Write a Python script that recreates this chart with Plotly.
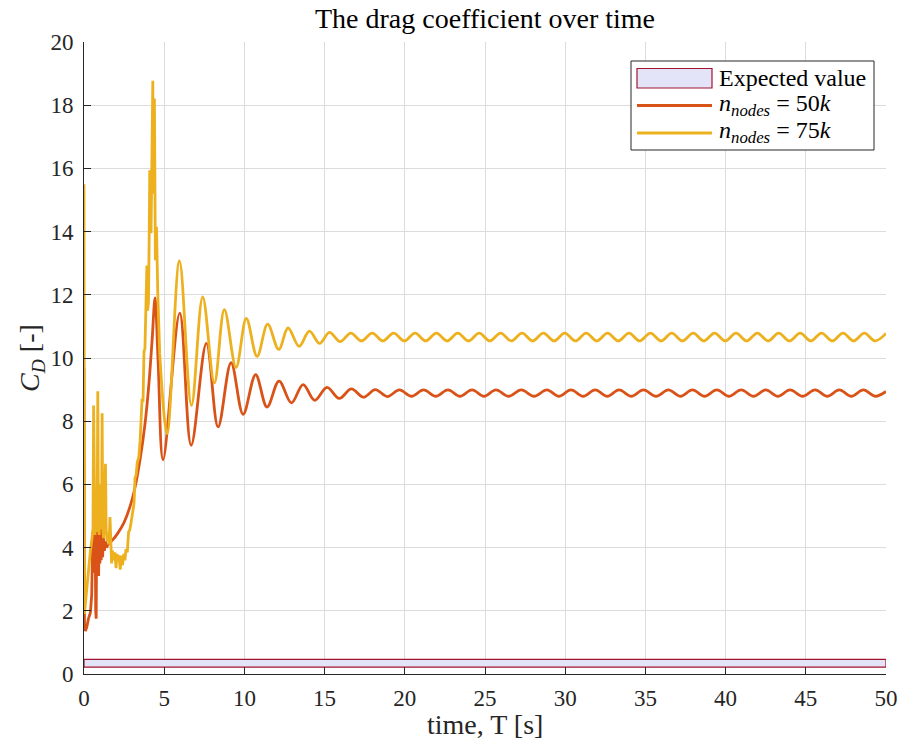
import plotly.graph_objects as go

# ---------------- data ----------------
# Expected value band for C_D
expected_low = 0.22
expected_high = 0.46
time_limits = [0.0, 50.0]

# n_nodes = 50k : noisy start-up part
red_spiky_t = [0.00, 0.03, 0.09, 0.18, 0.28, 0.40, 0.48, 0.52, 0.55, 0.58, 0.62, 0.66, 0.70,
               0.73, 0.76, 0.79, 0.83, 0.87, 0.91, 0.95, 0.99, 1.03, 1.07, 1.11, 1.16, 1.21,
               1.27, 1.33, 1.40, 1.50]
red_spiky_v = [9.70, 1.60, 1.36, 1.50, 1.75, 1.95, 2.50, 3.30, 4.50, 3.20, 4.60, 3.30, 4.40,
               2.00, 1.75, 4.50, 3.30, 4.60, 3.10, 4.40, 3.50, 4.60, 3.60, 4.40, 3.70, 4.30,
               3.90, 4.20, 4.00, 4.10]
# n_nodes = 50k : smooth part (peaks / troughs)
red_smooth_t = [1.50, 1.80, 2.10, 2.50, 2.90, 3.20, 3.50, 3.80, 4.05, 4.25, 4.43, 4.62, 4.93,
                5.97, 6.68, 7.63, 8.36, 9.17, 9.92, 10.70, 11.41, 12.16, 12.93, 13.66, 14.38,
                15.15, 15.91, 16.67, 17.42, 18.16, 18.91, 19.66, 20.42, 21.17, 21.93, 22.69,
                23.44, 24.19, 24.94, 25.68, 26.47, 27.26, 28.06, 28.86, 29.61, 30.36, 31.12,
                31.87, 32.62, 33.36, 34.12, 34.88, 35.66, 36.44, 37.19, 37.93, 38.69, 39.45,
                40.21, 40.97, 41.74, 42.50, 43.26, 44.02, 44.80, 45.58, 46.34, 47.09, 47.84,
                48.59, 49.34, 50.00]
red_smooth_v = [4.10, 4.25, 4.45, 4.80, 5.35, 5.95, 6.80, 7.90, 9.20, 10.60, 11.90, 9.90, 6.78,
                11.42, 7.24, 10.46, 7.82, 9.85, 8.22, 9.47, 8.45, 9.27, 8.58, 9.16, 8.66,
                9.07, 8.72, 9.02, 8.76, 9.00, 8.78, 8.99, 8.79, 8.99, 8.79, 8.99,
                8.79, 8.99, 8.79, 8.99, 8.79, 8.99, 8.79, 8.99, 8.79, 8.99, 8.79,
                8.99, 8.79, 8.99, 8.79, 8.99, 8.79, 8.99, 8.79, 8.99, 8.79, 8.99,
                8.79, 8.99, 8.79, 8.99, 8.79, 8.99, 8.79, 8.99, 8.79, 8.99, 8.79,
                8.99, 8.79, 8.94]

# n_nodes = 75k : noisy start-up part
yellow_spiky_t = [0.00, 0.03, 0.10, 0.20, 0.30, 0.40, 0.50, 0.56, 0.60, 0.63, 0.68, 0.72, 0.76,
                  0.82, 0.86, 0.90, 0.95, 1.00, 1.04, 1.09, 1.13, 1.17, 1.22, 1.28, 1.34, 1.38,
                  1.44, 1.50, 1.56, 1.62, 1.67, 1.72, 1.78, 1.85, 1.92, 2.00, 2.06, 2.12, 2.18,
                  2.26, 2.33, 2.40, 2.48, 2.55, 2.62, 2.70, 2.78, 2.85, 2.92, 3.00, 3.06, 3.12,
                  3.18, 3.25, 3.32, 3.42, 3.50, 3.56, 3.62, 3.68, 3.74, 3.80, 3.86, 3.92, 3.97,
                  4.02, 4.06, 4.10, 4.18, 4.23, 4.29, 4.33, 4.39, 4.45, 4.52, 4.60, 4.72]
yellow_spiky_v = [15.50, 1.90, 2.30, 2.90, 3.40, 3.90, 4.30, 4.60, 8.50, 4.80, 4.40, 5.50, 4.50,
                  4.90, 8.95, 4.70, 4.40, 6.00, 4.60, 4.90, 8.25, 4.60, 4.30, 5.40, 6.65, 4.60,
                  4.20, 4.40, 4.10, 4.97, 3.70, 3.50, 3.90, 3.60, 3.85, 3.35, 3.80, 3.60, 3.75,
                  3.30, 3.75, 3.45, 3.80, 3.60, 3.95, 3.85, 4.50, 4.55, 4.75, 5.00, 5.30, 5.40,
                  6.20, 6.30, 6.70, 6.87, 7.40, 7.92, 8.71, 8.60, 10.20, 10.30, 12.10, 12.93, 11.50,
                  11.80, 13.62, 15.94, 13.95, 16.25, 18.77, 15.20, 18.21, 13.09, 14.15, 12.04, 10.14]
# n_nodes = 75k : smooth part (peaks / troughs)
yellow_smooth_t = [4.72, 5.18, 5.95, 6.70, 7.40, 8.13, 8.75, 9.48, 10.12, 10.79, 11.45, 12.14,
                   12.72, 13.41, 14.05, 14.69, 15.30, 15.97, 16.63, 17.30, 17.97, 18.63, 19.30,
                   19.97, 20.64, 21.30, 21.97, 22.64, 23.30, 23.97, 24.64, 25.30, 25.97, 26.64,
                   27.31, 27.97, 28.64, 29.31, 29.97, 30.64, 31.31, 31.97, 32.64, 33.31, 33.98,
                   34.64, 35.31, 35.98, 36.64, 37.31, 37.98, 38.64, 39.31, 39.98, 40.65, 41.31,
                   41.98, 42.65, 43.31, 43.98, 44.65, 45.31, 45.98, 46.65, 47.32, 47.98, 48.65,
                   49.32, 50.00]
yellow_smooth_v = [10.14, 7.61, 13.07, 8.50, 11.93, 9.21, 11.53, 9.70, 11.25, 10.05, 11.07, 10.27,
                   10.95, 10.37, 10.85, 10.46, 10.81, 10.52, 10.79, 10.54, 10.79, 10.54, 10.79,
                   10.54, 10.79, 10.54, 10.79, 10.54, 10.79, 10.54, 10.79, 10.54, 10.79, 10.54,
                   10.79, 10.54, 10.79, 10.54, 10.79, 10.54, 10.79, 10.54, 10.79, 10.54, 10.79,
                   10.54, 10.79, 10.54, 10.79, 10.54, 10.79, 10.54, 10.79, 10.54, 10.79, 10.54,
                   10.79, 10.54, 10.79, 10.54, 10.79, 10.54, 10.79, 10.54, 10.79, 10.54, 10.79,
                   10.54, 10.78]

x_ticks = [0, 5, 10, 15, 20, 25, 30, 35, 40, 45, 50]
y_ticks = [0, 2, 4, 6, 8, 10, 12, 14, 16, 18, 20]

legend_labels = ["Expected value",
                 "<i>n</i><sub><i>nodes</i></sub> = 50<i>k</i>",
                 "<i>n</i><sub><i>nodes</i></sub> = 75<i>k</i>"]

# ---------------- styling ----------------
FONT = "Liberation Serif"
RED = "#D95319"
YELLOW = "#EDB120"
BAND_FILL = "#E4E4F8"
BAND_EDGE = "#A2142F"
AX = "#262626"
GRID = "#DCDCDC"
LW = 2.8

W, H = 901, 754
ML, MR, MT, MB = 84, 15, 42, 80
PW, PH = W - ML - MR, H - MT - MB


def px_x(px):
    return (px - ML) / PW


def px_y(py):
    return (H - MB - py) / PH


fig = go.Figure()

# expected value band
fig.add_trace(go.Scatter(
    x=[time_limits[0], time_limits[1], time_limits[1], time_limits[0], time_limits[0]],
    y=[expected_low, expected_low, expected_high, expected_high, expected_low],
    mode="lines", fill="toself", fillcolor=BAND_FILL,
    line=dict(color=BAND_EDGE, width=1.2),
    name=legend_labels[0], showlegend=False, hoverinfo="skip"))

# 50k
fig.add_trace(go.Scatter(x=red_spiky_t, y=red_spiky_v, mode="lines",
                         line=dict(color=RED, width=LW), showlegend=False,
                         name=legend_labels[1]))
fig.add_trace(go.Scatter(x=red_smooth_t, y=red_smooth_v, mode="lines",
                         line=dict(color=RED, width=LW, shape="spline", smoothing=1.0),
                         showlegend=False, name=legend_labels[1]))
# 75k
fig.add_trace(go.Scatter(x=yellow_spiky_t, y=yellow_spiky_v, mode="lines",
                         line=dict(color=YELLOW, width=LW), showlegend=False,
                         name=legend_labels[2]))
fig.add_trace(go.Scatter(x=yellow_smooth_t, y=yellow_smooth_v, mode="lines",
                         line=dict(color=YELLOW, width=LW, shape="spline", smoothing=1.0),
                         showlegend=False, name=legend_labels[2]))

axis_common = dict(
    showgrid=True, gridcolor=GRID, gridwidth=1,
    showline=True, linecolor=AX, linewidth=1, mirror=False,
    ticks="inside", ticklen=7, tickcolor=AX, tickwidth=1,
    zeroline=False, automargin=False,
    tickfont=dict(family=FONT, size=23, color=AX),
)

fig.update_xaxes(range=time_limits, tickvals=x_ticks, ticklabelstandoff=3, **axis_common)
fig.update_yaxes(range=[0, 20], tickvals=y_ticks, ticklabelstandoff=5, **axis_common)

# ---- legend drawn as shapes + text (MATLAB style box) ----
shapes = [
    dict(type="rect", xref="paper", yref="paper",
         x0=px_x(631), x1=px_x(874), y0=px_y(150), y1=px_y(61),
         line=dict(color=AX, width=1), fillcolor="white", layer="above"),
    dict(type="rect", xref="paper", yref="paper",
         x0=px_x(637), x1=px_x(712), y0=px_y(88), y1=px_y(68.5),
         line=dict(color=BAND_EDGE, width=1.2), fillcolor=BAND_FILL, layer="above"),
    dict(type="line", xref="paper", yref="paper",
         x0=px_x(637), x1=px_x(712), y0=px_y(105.5), y1=px_y(105.5),
         line=dict(color=RED, width=LW), layer="above"),
    dict(type="line", xref="paper", yref="paper",
         x0=px_x(637), x1=px_x(712), y0=px_y(133), y1=px_y(133),
         line=dict(color=YELLOW, width=LW), layer="above"),
]
annotations = [
    dict(text=legend_labels[0], xref="paper", yref="paper", x=px_x(717), y=px_y(78),
         xanchor="left", yanchor="middle", showarrow=False,
         font=dict(family=FONT, size=24, color="#000000")),
    dict(text=legend_labels[1], xref="paper", yref="paper", x=px_x(717), y=px_y(105),
         xanchor="left", yanchor="middle", showarrow=False,
         font=dict(family=FONT, size=24, color="#000000")),
    dict(text=legend_labels[2], xref="paper", yref="paper", x=px_x(717), y=px_y(132),
         xanchor="left", yanchor="middle", showarrow=False,
         font=dict(family=FONT, size=24, color="#000000")),
    # axis titles
    dict(text="time, T [s]", xref="paper", yref="paper", x=0.5, y=px_y(724),
         xanchor="center", yanchor="middle", showarrow=False,
         font=dict(family=FONT, size=28, color=AX)),
    dict(text="<i>C</i><sub><i>D</i></sub> [-]", xref="paper", yref="paper",
         x=px_x(31), y=px_y(358), textangle=-90,
         xanchor="center", yanchor="middle", showarrow=False,
         font=dict(family=FONT, size=28, color=AX)),
]

fig.update_layout(
    width=W, height=H,
    margin=dict(l=ML, r=MR, t=MT, b=MB, autoexpand=False),
    paper_bgcolor="white", plot_bgcolor="white",
    title=dict(text="The drag coefficient over time", x=0.5, xref="paper",
               y=1 - 18 / H, yanchor="middle",
               font=dict(family=FONT, size=28, color="#000000")),
    shapes=shapes, annotations=annotations,
    showlegend=False,
)

fig.write_html("out.html")
